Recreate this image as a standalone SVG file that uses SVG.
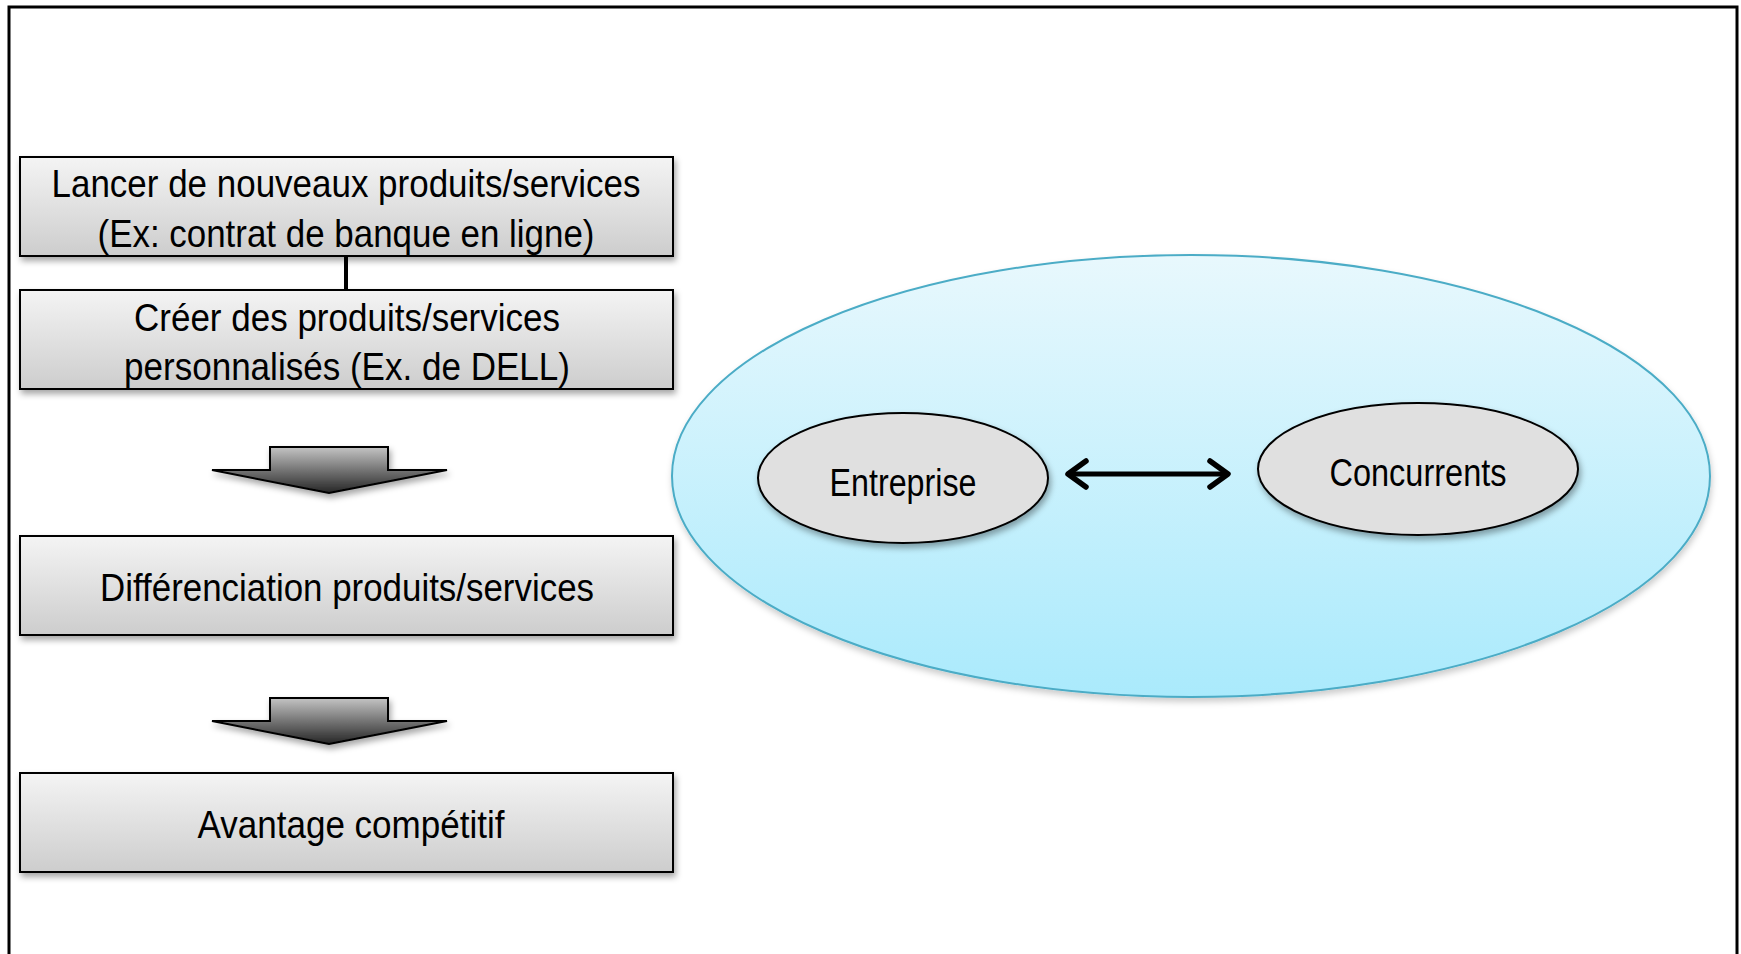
<svg xmlns="http://www.w3.org/2000/svg" width="1741" height="954" viewBox="0 0 1741 954">
<style>
.box{fill:url(#gBox);stroke:#000;stroke-width:2;filter:url(#sh)}
.t{font-family:"Liberation Sans Narrow","Arial Narrow","Liberation Sans",Arial,sans-serif;font-size:39px;fill:#000;text-anchor:middle}
.small{fill:#e0e0e0;stroke:#000;stroke-width:2;filter:url(#sh)}
.blk{fill:url(#gArr);stroke:#000;stroke-width:2;filter:url(#sh)}
</style>
<defs>
<linearGradient id="gBox" x1="0" y1="0" x2="0" y2="1"><stop offset="0" stop-color="#f4f4f4"/><stop offset="1" stop-color="#cdcdcd"/></linearGradient>
<linearGradient id="gArr" x1="0" y1="0" x2="0" y2="1"><stop offset="0" stop-color="#c4c4c4"/><stop offset="1" stop-color="#262626"/></linearGradient>
<linearGradient id="gEl" x1="0" y1="0" x2="0" y2="1"><stop offset="0" stop-color="#e8f8fd"/><stop offset="1" stop-color="#aaeafc"/></linearGradient>
<filter id="sh" x="-10%" y="-10%" width="125%" height="135%"><feDropShadow dx="2" dy="4" stdDeviation="3" flood-color="#000" flood-opacity="0.35"/></filter>
<filter id="sh2" x="-10%" y="-10%" width="125%" height="135%"><feDropShadow dx="1" dy="4" stdDeviation="3" flood-color="#000" flood-opacity="0.2"/></filter>
<marker id="chev" viewBox="0 0 30 34" refX="26" refY="17" markerWidth="30" markerHeight="34" orient="auto-start-reverse" markerUnits="userSpaceOnUse"><polyline points="8,4 26,17 8,30" fill="none" stroke="#000" stroke-width="5.5" stroke-linecap="round" stroke-linejoin="round"/></marker>
</defs>
<rect x="0" y="0" width="1741" height="954" fill="#fff"/>
<rect x="9" y="7" width="1728" height="980" fill="none" stroke="#000" stroke-width="3"/>

<g id="box1">
<rect class="box" x="20" y="157" width="653" height="99"/>
<text class="t" x="346" y="197" textLength="589" lengthAdjust="spacingAndGlyphs">Lancer de nouveaux produits/services</text>
<text class="t" x="346" y="247" textLength="497" lengthAdjust="spacingAndGlyphs">(Ex: contrat de banque en ligne)</text>
</g>
<g id="box2">
<rect class="box" x="20" y="290" width="653" height="99"/>
<text class="t" x="347" y="331" textLength="426" lengthAdjust="spacingAndGlyphs">Créer des produits/services</text>
<text class="t" x="347" y="380" textLength="446" lengthAdjust="spacingAndGlyphs">personnalisés (Ex. de DELL)</text>
</g>
<g id="arrow1">
<polygon class="blk" points="270,447 388,447 388,470 447,470 329,493 212,470 270,470"/>
</g>
<g id="box3">
<rect class="box" x="20" y="536" width="653" height="99"/>
<text class="t" x="347" y="601" textLength="494" lengthAdjust="spacingAndGlyphs">Différenciation produits/services</text>
</g>
<g id="arrow2">
<polygon class="blk" points="270,698 388,698 388,721 447,721 329,744 212,721 270,721"/>
</g>
<g id="box4">
<rect class="box" x="20" y="773" width="653" height="99"/>
<text class="t" x="351" y="838" textLength="307" lengthAdjust="spacingAndGlyphs">Avantage compétitif</text>
</g>

<g id="market">
<ellipse cx="1191" cy="476" rx="519" ry="221" fill="url(#gEl)" stroke="#4bacc6" stroke-width="2" filter="url(#sh2)"/>
</g>
<g id="entreprise">
<ellipse class="small" cx="903" cy="478" rx="145" ry="65"/>
<text class="t" x="903" y="496" textLength="147" lengthAdjust="spacingAndGlyphs">Entreprise</text>
</g>
<g id="concurrents">
<ellipse class="small" cx="1418" cy="469" rx="160" ry="66"/>
<text class="t" x="1418" y="486" textLength="177" lengthAdjust="spacingAndGlyphs">Concurrents</text>
</g>

<g id="connectors">
<line x1="346" y1="256" x2="346" y2="290" stroke="#000" stroke-width="4"/>
<line x1="1068" y1="474" x2="1228" y2="474" stroke="#000" stroke-width="5" marker-start="url(#chev)" marker-end="url(#chev)"/>
</g>
</svg>
